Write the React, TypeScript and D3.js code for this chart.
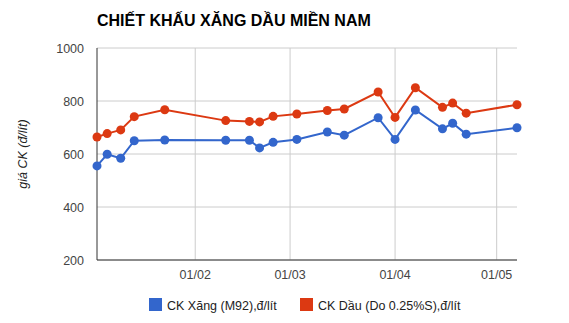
import React from "react";
import * as d3 from "d3";

const dates = [
  "2015-01-03", "2015-01-06", "2015-01-10", "2015-01-14", "2015-01-23",
  "2015-02-10", "2015-02-17", "2015-02-20", "2015-02-24", "2015-03-03",
  "2015-03-12", "2015-03-17", "2015-03-27", "2015-04-01", "2015-04-07",
  "2015-04-15", "2015-04-18", "2015-04-22", "2015-05-07",
];
const xangValues = [555, 599, 584, 650, 653, 652, 652, 623, 644, 655, 683, 671, 737, 655, 766, 695, 716, 675, 699];
const dauValues = [664, 677, 691, 741, 767, 726, 723, 721, 742, 751, 764, 770, 834, 738, 850, 776, 792, 754, 786];
const xTickDates = ["2015-02-01", "2015-03-01", "2015-04-01", "2015-05-01"];
const yTicks = [200, 400, 600, 800, 1000];
const seriesNames = ["CK Xăng (M92),đ/lít", "CK Dầu (Do 0.25%S),đ/lít"];
const seriesColors = ["#3366cc", "#dc3912"];
const title = "CHIẾT KHẤU XĂNG DẦU MIỀN NAM";
const yTitle = "giá CK (đ/lít)";

const W = 569, H = 323;
const left = 97, right = 517, top = 48, bottom = 260;
const font = "Arial, 'Liberation Sans', sans-serif";

export default function App() {
  const parse = d3.timeParse("%Y-%m-%d");
  const ds = dates.map((d) => parse(d) as Date);
  const x = d3.scaleTime().domain([ds[0], ds[ds.length - 1]]).range([left, right]);
  const y = d3.scaleLinear().domain([200, 1000]).range([bottom, top]);
  const fmt = d3.timeFormat("%d/%m");
  const series = [xangValues, dauValues];
  const line = d3.line<number>().x((_, i) => x(ds[i])).y((v) => y(v));
  const xt = xTickDates.map((d) => parse(d) as Date);

  return (
    <svg width={W} height={H} style={{ position: "fixed", left: 0, top: 0, background: "#fff" }}>
      <rect width={W} height={H} fill="#fff" />
      <text x={97} y={26} fontFamily={font} fontWeight="bold" fontSize={16} fill="#000">{title}</text>
      {yTicks.map((t) => (
        <g key={t}>
          <line x1={left} x2={right} y1={y(t)} y2={y(t)} stroke="#cccccc" strokeWidth={1} />
          <text x={84} y={y(t) + 4.5} textAnchor="end" fontFamily={font} fontSize={12.5} fill="#444">{t}</text>
        </g>
      ))}
      {xt.map((d, i) => (
        <g key={i}>
          <line x1={x(d)} x2={x(d)} y1={top} y2={bottom} stroke="#cccccc" strokeWidth={1} />
          <text x={x(d)} y={279} textAnchor="middle" fontFamily={font} fontSize={12.5} fill="#444">{fmt(d)}</text>
        </g>
      ))}
      <line x1={left} x2={left} y1={top} y2={bottom} stroke="#333" strokeWidth={1} />
      <line x1={left} x2={right} y1={bottom} y2={bottom} stroke="#333" strokeWidth={1} />
      <text transform={`translate(27,${(top + bottom) / 2}) rotate(-90)`} textAnchor="middle" fontFamily={font} fontStyle="italic" fontSize={12.5} fill="#222">{yTitle}</text>
      {series.map((vals, si) => (
        <g key={si}>
          <path d={line(vals) || ""} fill="none" stroke={seriesColors[si]} strokeWidth={2} />
          {vals.map((v, i) => (
            <circle key={i} cx={x(ds[i])} cy={y(v)} r={4.5} fill={seriesColors[si]} />
          ))}
        </g>
      ))}
      {seriesNames.map((n, i) => {
        const lx = [149, 300][i];
        return (
          <g key={i}>
            <rect x={lx} y={298} width={13} height={13} fill={seriesColors[i]} />
            <text x={lx + 18} y={309.5} fontFamily={font} fontSize={12.5} fill="#222">{n}</text>
          </g>
        );
      })}
    </svg>
  );
}
